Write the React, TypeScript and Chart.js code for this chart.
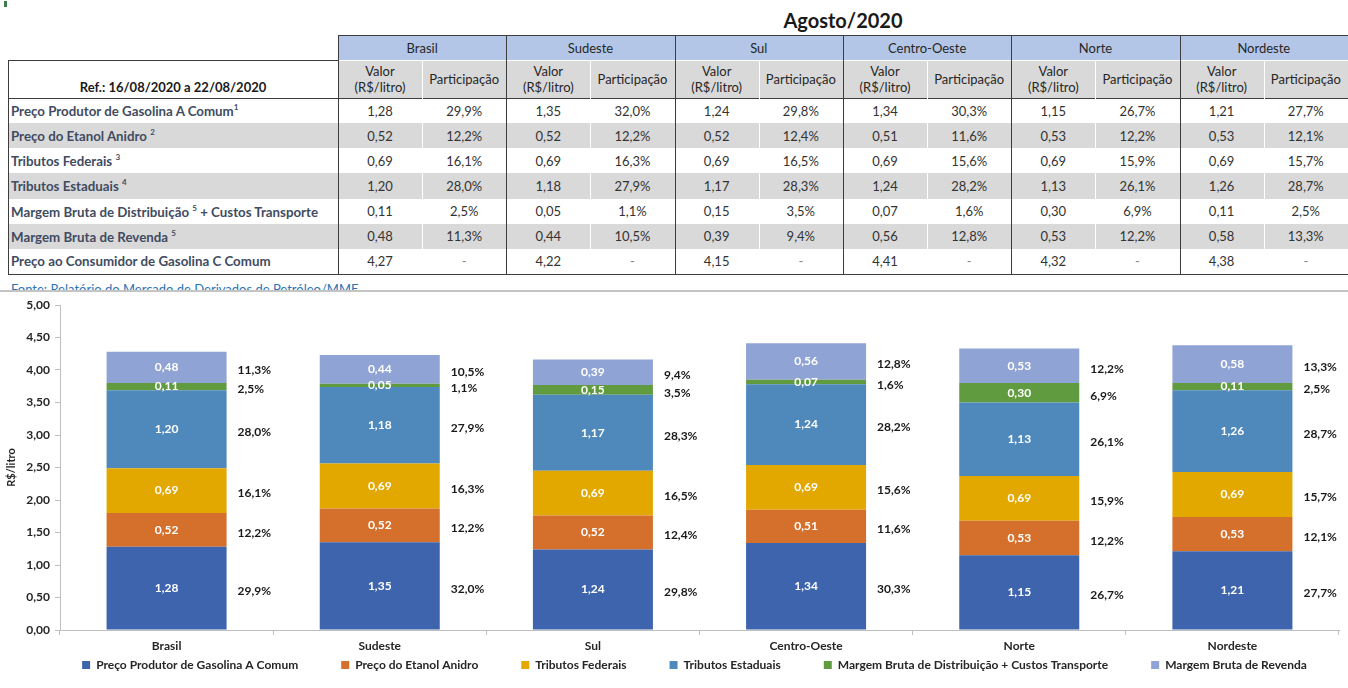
import React, { useEffect, useRef } from 'react';
import { Chart, registerables } from 'chart.js';

Chart.register(...registerables);

// ---------------- DATA ----------------
const regions = ['Brasil', 'Sudeste', 'Sul', 'Centro-Oeste', 'Norte', 'Nordeste'];
const seriesNames = [
  'Preço Produtor de Gasolina A Comum',
  'Preço do Etanol Anidro',
  'Tributos Federais',
  'Tributos Estaduais',
  'Margem Bruta de Distribuição + Custos Transporte',
  'Margem Bruta de Revenda',
];
const produtor = [1.28, 1.35, 1.24, 1.34, 1.15, 1.21];
const etanol = [0.52, 0.52, 0.52, 0.51, 0.53, 0.53];
const tribFederais = [0.69, 0.69, 0.69, 0.69, 0.69, 0.69];
const tribEstaduais = [1.2, 1.18, 1.17, 1.24, 1.13, 1.26];
const margemDistribuicao = [0.11, 0.05, 0.15, 0.07, 0.3, 0.11];
const margemRevenda = [0.48, 0.44, 0.39, 0.56, 0.53, 0.58];
const precoConsumidor = [4.27, 4.22, 4.15, 4.41, 4.32, 4.38];

const pctProdutor = [29.9, 32.0, 29.8, 30.3, 26.7, 27.7];
const pctEtanol = [12.2, 12.2, 12.4, 11.6, 12.2, 12.1];
const pctTribFederais = [16.1, 16.3, 16.5, 15.6, 15.9, 15.7];
const pctTribEstaduais = [28.0, 27.9, 28.3, 28.2, 26.1, 28.7];
const pctMargemDistribuicao = [2.5, 1.1, 3.5, 1.6, 6.9, 2.5];
const pctMargemRevenda = [11.3, 10.5, 9.4, 12.8, 12.2, 13.3];

const tableTitle = 'Agosto/2020';
const refLabel = 'Ref.: 16/08/2020 a 22/08/2020';
const sourceText = 'Fonte: Relatório do Mercado de Derivados de Petróleo/MME';
const yAxisTitle = 'R$/litro';

const tableRowLabels = [
  { pre: 'Preço Produtor de Gasolina A Comum', sup: '1', post: '' },
  { pre: 'Preço do Etanol Anidro ', sup: '2', post: '' },
  { pre: 'Tributos Federais ', sup: '3', post: '' },
  { pre: 'Tributos Estaduais ', sup: '4', post: '' },
  { pre: 'Margem Bruta de Distribuição ', sup: '5', post: ' + Custos Transporte' },
  { pre: 'Margem Bruta de Revenda ', sup: '5', post: '' },
  { pre: 'Preço ao Consumidor de Gasolina C Comum', sup: '', post: '' },
];

const seriesValues = [produtor, etanol, tribFederais, tribEstaduais, margemDistribuicao, margemRevenda];
const seriesPcts = [pctProdutor, pctEtanol, pctTribFederais, pctTribEstaduais, pctMargemDistribuicao, pctMargemRevenda];
const seriesColors = ['#3d64ad', '#d5702c', '#e2a800', '#4f89bc', '#619b3f', '#90a3d5'];

// ---------------- HELPERS ----------------
const fmt2 = (v: number) => v.toFixed(2).replace('.', ',');
const fmtPct = (p: number) => p.toFixed(1).replace('.', ',') + '%';
const FONT = 'Lato, "Open Sans", sans-serif';

// table geometry (style only)
const X0 = 8;
const XL = 338;
const GW = 168.33;
const SUB = 84;
const Y_H1 = 35;
const Y_H2 = 60;
const Y_D = 98;
const RH = 25.14;
const DARK = '#3c3c3c';
const GREY = '#d9d9d9';

const segLabels = {
  id: 'segLabels',
  afterDatasetsDraw(chart: any) {
    const ctx = chart.ctx;
    ctx.save();
    ctx.font = `bold 12px ${FONT}`;
    ctx.textBaseline = 'middle';
    chart.data.datasets.forEach((ds: any, di: number) => {
      const meta = chart.getDatasetMeta(di);
      meta.data.forEach((el: any, i: number) => {
        const { x, y, base, width } = el.getProps(['x', 'y', 'base', 'width'], true);
        const cy = (y + base) / 2;
        ctx.fillStyle = '#ffffff';
        ctx.textAlign = 'center';
        ctx.fillText(fmt2(ds.data[i]), x, cy);
        ctx.fillStyle = '#1a1a1a';
        ctx.textAlign = 'left';
        ctx.fillText(fmtPct(seriesPcts[di][i]), x + width / 2 + 11, cy + 3);
      });
    });
    ctx.restore();
  },
};

const legendShift = {
  id: 'legendShift',
  afterLayout(chart: any) {
    const lg = chart.legend;
    if (!lg) return;
    const pad = lg.options.labels.padding;
    const targetCenter = chart.chartArea.bottom + 35;
    const newTop = targetCenter - pad - 6;
    const dy = newTop - lg.top;
    lg.top += dy;
    lg.bottom += dy;
    lg.left += 25;
    lg.right += 25;
  },
};

function ChartPart() {
  const ref = useRef<HTMLCanvasElement | null>(null);
  useEffect(() => {
    if (!ref.current) return;
    const chart = new Chart(ref.current, {
      type: 'bar',
      data: {
        labels: regions,
        datasets: seriesValues.map((vals, i) => ({
          label: seriesNames[i],
          data: vals,
          backgroundColor: seriesColors[i],
          borderWidth: 0,
          barPercentage: 0.563,
          categoryPercentage: 1,
          stack: 's',
        })),
      },
      options: {
        responsive: false,
        animation: false,
        layout: { padding: { top: 13, right: 9, left: 0, bottom: 0 } },
        plugins: {
          legend: {
            position: 'bottom',
            labels: {
              boxWidth: 8,
              boxHeight: 8,
              padding: 43,
              color: '#262626',
              font: { size: 12, weight: 'bold', family: FONT },
            },
          },
          tooltip: { enabled: false },
        },
        scales: {
          x: {
            stacked: true,
            grid: { display: true, drawOnChartArea: false, tickLength: 5, color: '#bfbfbf' },
            border: { display: true, color: '#bfbfbf' },
            ticks: { color: '#262626', padding: 4, font: { size: 12, weight: 'bold', family: FONT } },
            afterFit: (s: any) => { s.height = 20; },
          },
          y: {
            stacked: true,
            min: 0,
            max: 5,
            ticks: {
              stepSize: 0.5,
              padding: 5,
              color: '#262626',
              font: { size: 12, weight: 'bold', family: FONT },
              callback: (v: any) => fmt2(Number(v)),
            },
            grid: { display: true, drawOnChartArea: false, tickLength: 5, color: '#bfbfbf' },
            border: { display: true, color: '#bfbfbf' },
            title: {
              display: true,
              text: yAxisTitle,
              color: '#262626',
              padding: { top: 5, bottom: 0 },
              font: { size: 11, weight: 'bold', family: FONT },
            },
            afterFit: (s: any) => { s.width = 60; },
          },
        },
      },
      plugins: [segLabels, legendShift],
    } as any);
    return () => chart.destroy();
  }, []);
  return (
    <canvas
      ref={ref}
      width={1348}
      height={423}
      style={{ position: 'absolute', left: 0, top: 292, width: 1348, height: 423 }}
    />
  );
}

function Line({ x, y, w, h, c }: { x: number; y: number; w: number; h: number; c: string }) {
  return <div style={{ position: 'absolute', left: x, top: y, width: w, height: h, background: c }} />;
}

function Table() {
  const cells: any[] = [];
  const totalRight = XL + 6 * GW;
  regions.forEach((r, g) => {
    cells.push(
      <div key={'h1' + g} style={{ position: 'absolute', left: XL + g * GW, top: Y_H1, width: GW, height: Y_H2 - Y_H1, background: '#b4c6e7', display: 'flex', alignItems: 'center', justifyContent: 'center', fontSize: 13, color: '#262626' }}>{r}</div>
    );
    cells.push(
      <div key={'h2' + g} style={{ position: 'absolute', left: XL + g * GW, top: Y_H2, width: GW, height: Y_D - Y_H2, background: GREY }} />
    );
    cells.push(
      <div key={'h2v' + g} style={{ position: 'absolute', left: XL + g * GW, top: Y_H2, width: SUB, height: Y_D - Y_H2, display: 'flex', alignItems: 'center', justifyContent: 'center', textAlign: 'center', fontSize: 13, lineHeight: '16px', color: '#262626' }}>Valor<br />(R$/litro)</div>
    );
    cells.push(
      <div key={'h2p' + g} style={{ position: 'absolute', left: XL + g * GW + SUB, top: Y_H2, width: GW - SUB, height: Y_D - Y_H2, display: 'flex', alignItems: 'center', justifyContent: 'center', fontSize: 13, color: '#262626' }}>Participação</div>
    );
  });
  cells.push(
    <div key="ref" style={{ position: 'absolute', left: X0, top: Y_H2, width: XL - X0, height: Y_D - Y_H2, display: 'flex', alignItems: 'flex-end', justifyContent: 'center', boxSizing: 'border-box', fontSize: 13, fontWeight: 'bold', color: '#1a1a1a', lineHeight: '22px' }}>{refLabel}</div>
  );
  tableRowLabels.forEach((lab, r) => {
    const top = Y_D + r * RH;
    if (r % 2 === 1) {
      cells.push(<div key={'bg' + r} style={{ position: 'absolute', left: X0, top, width: totalRight - X0 + 10, height: RH, background: GREY }} />);
    }
    cells.push(
      <div key={'lab' + r} style={{ position: 'absolute', left: X0 + 3, top, width: XL - X0 - 3, height: RH, display: 'flex', alignItems: 'center', fontSize: 13.3, fontWeight: 'bold', color: '#414b61', whiteSpace: 'pre' }}>
        <span>{lab.pre}{lab.sup ? <sup style={{ fontSize: 8, verticalAlign: 6 }}>{lab.sup}</sup> : null}{lab.post}</span>
      </div>
    );
    regions.forEach((_, g) => {
      const val = r < 6 ? seriesValues[r][g] : precoConsumidor[g];
      const pct = r < 6 ? fmtPct(seriesPcts[r][g]) : '-';
      cells.push(
        <div key={'v' + r + '_' + g} style={{ position: 'absolute', left: XL + g * GW, top, width: SUB, height: RH, display: 'flex', alignItems: 'center', justifyContent: 'center', fontSize: 13, color: '#333' }}>{fmt2(val)}</div>
      );
      cells.push(
        <div key={'p' + r + '_' + g} style={{ position: 'absolute', left: XL + g * GW + SUB, top, width: GW - SUB, height: RH, display: 'flex', alignItems: 'center', justifyContent: 'center', fontSize: 13, color: r < 6 ? '#333' : '#888' }}>{pct}</div>
      );
    });
  });
  const bottom = Y_D + 7 * RH;
  const lines: any[] = [];
  lines.push(<Line key="l1" x={XL} y={Y_H1} w={totalRight - XL + 10} h={1} c={DARK} />);
  lines.push(<Line key="l2" x={X0} y={Y_H2} w={XL - X0} h={1} c={DARK} />);
  lines.push(<Line key="l2w" x={XL} y={Y_H2} w={totalRight - XL + 10} h={1} c="#ffffff" />);
  lines.push(<Line key="l3" x={X0} y={Y_D} w={totalRight - X0 + 10} h={1} c={DARK} />);
  lines.push(<Line key="l4" x={X0} y={bottom} w={totalRight - X0 + 10} h={1} c={DARK} />);
  lines.push(<Line key="lv0" x={X0} y={Y_H2} w={1} h={bottom - Y_H2} c={DARK} />);
  regions.forEach((_, g) => {
    lines.push(<Line key={'lvw' + g} x={XL + g * GW + SUB} y={Y_H2 + 1} w={1} h={bottom - Y_H2 - 1} c="#ffffff" />);
    lines.push(<Line key={'lvd' + g} x={XL + g * GW} y={Y_H1} w={1} h={bottom - Y_H1} c={DARK} />);
  });
  return (
    <>
      <div style={{ position: 'absolute', left: XL, top: 7, width: 6 * GW, textAlign: 'center', fontSize: 20, fontWeight: 'bold', color: '#1a1a1a', lineHeight: '26px' }}>{tableTitle}</div>
      {cells}
      {lines}
      <div style={{ position: 'absolute', left: 0, top: bottom + 1, width: 600, height: 290 - bottom - 1, overflow: 'hidden' }}>
        <div style={{ position: 'absolute', left: 11, top: 6, fontSize: 13, lineHeight: '16px', color: '#2f75b5', whiteSpace: 'nowrap' }}>{sourceText}</div>
      </div>
    </>
  );
}

export default function App() {
  return (
    <div style={{ position: 'fixed', left: 0, top: 0, width: 1348, height: 688, overflow: 'hidden', background: '#ffffff', fontFamily: FONT }}>
      <div style={{ position: 'absolute', left: 4, top: 1, width: 3, height: 6, background: '#3c7d4a' }} />
      <Table />
      <div style={{ position: 'absolute', left: 0, top: 290, width: 1348, height: 2, background: '#c4c4c4' }} />
      <ChartPart />
    </div>
  );
}
